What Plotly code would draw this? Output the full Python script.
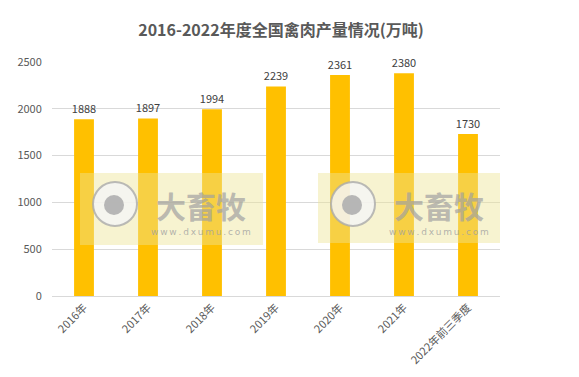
import plotly.graph_objects as go

categories = ["2016年", "2017年", "2018年", "2019年", "2020年", "2021年", "2022年前三季度"]
values = [1888, 1897, 1994, 2239, 2361, 2380, 1730]
y_ticks = [0, 500, 1000, 1500, 2000, 2500]

FONT = "Noto Sans CJK SC, Liberation Sans, sans-serif"

fig = go.Figure(go.Bar(
    x=categories, y=values,
    marker=dict(color="#FFC000", line=dict(width=0)),
    text=[str(v) for v in values], textposition="outside",
    textfont=dict(size=11, color="#404040", family=FONT),
    constraintext="none",
    cliponaxis=False,
    hoverinfo="skip",
))

W, H = 579, 377
L, R, T, B = 52, 500, 62, 296

def px(x):
    return (x - L) / (R - L)

def py(y):
    return (B - y) / (B - T)

url = "\u2009".join("www.dxumu.com")

shapes = []
annotations = []
for (x0, x1, y0, y1) in [(80, 263, 173, 245), (318, 500, 173, 243)]:
    shapes.append(dict(type="rect", xref="paper", yref="paper", layer="above",
                       x0=px(x0), x1=px(x1), y0=py(y1), y1=py(y0),
                       fillcolor="rgba(238,228,150,0.45)", line=dict(width=0)))
    cx, cy, r = x0 + 35, 204, 22
    shapes.append(dict(type="circle", xref="paper", yref="paper", layer="above",
                       x0=px(cx - r), x1=px(cx + r), y0=py(cy + r), y1=py(cy - r),
                       fillcolor="rgba(245,245,245,0.85)", line=dict(color="rgba(170,170,170,0.8)", width=2)))
    r2 = 10
    shapes.append(dict(type="circle", xref="paper", yref="paper", layer="above",
                       x0=px(cx - r2 - 1), x1=px(cx + r2 - 1), y0=py(cy + r2 + 1), y1=py(cy - r2 + 1),
                       fillcolor="rgba(175,175,175,0.9)", line=dict(width=0)))
    annotations.append(dict(text="<b>大畜牧</b>", xref="paper", yref="paper",
                            x=px(x0 + 121), y=py(205), xanchor="center", yanchor="middle",
                            showarrow=False, borderpad=0,
                            font=dict(size=30, color="rgba(160,160,160,0.7)", family=FONT)))
    annotations.append(dict(text=url, xref="paper", yref="paper",
                            x=px(x0 + 121), y=py(232), xanchor="center", yanchor="middle",
                            showarrow=False, borderpad=0,
                            font=dict(size=9, color="rgba(160,160,160,0.8)", family="DejaVu Sans")))

fig.update_layout(
    width=W, height=H,
    margin=dict(l=L, r=W - R, t=T, b=H - B),
    paper_bgcolor="white", plot_bgcolor="white",
    bargap=0.69,
    title=dict(text="<b>2016-2022年度全国禽肉产量情况(万吨)</b>", x=281 / W, xanchor="center",
               y=1 - 30 / H, yanchor="middle",
               font=dict(size=16, color="#595959", family=FONT)),
    xaxis=dict(tickangle=-45, tickfont=dict(size=11, color="#595959", family=FONT),
               showline=True, linecolor="#D9D9D9", linewidth=1, ticks="", showgrid=False,
               automargin=False, fixedrange=True),
    yaxis=dict(range=[0, 2500], tickvals=y_ticks, showgrid=True, gridcolor="#D9D9D9",
               zeroline=False, tickfont=dict(size=11, color="#595959", family=FONT),
               ticks="outside", ticklen=7, tickcolor="rgba(0,0,0,0)",
               automargin=False, fixedrange=True),
    shapes=shapes, annotations=annotations,
    showlegend=False,
)
fig.write_html("out.html", config={"displayModeBar": False},
               post_script="document.body.style.margin='0px';document.body.style.overflow='hidden';")
